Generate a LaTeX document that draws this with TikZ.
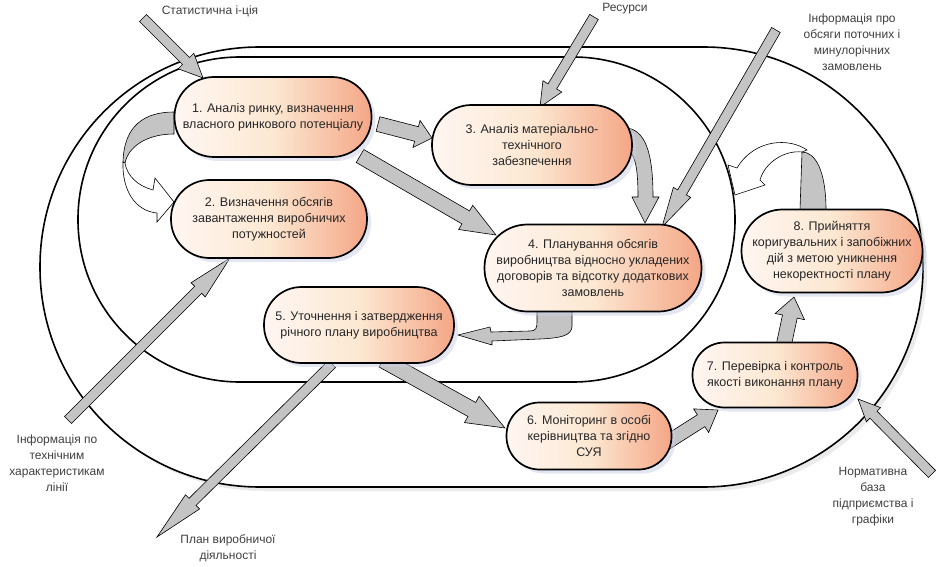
\documentclass[tikz,border=0pt]{standalone}
\usepackage{fontspec}
\setmainfont{Liberation Sans}
\usetikzlibrary{calc,shadows}
\definecolor{agray}{RGB}{196,196,196}
\definecolor{shc}{RGB}{202,208,228}
\definecolor{bc1}{RGB}{255,246,242}
\definecolor{bc2}{RGB}{252,232,210}
\definecolor{bc3}{RGB}{244,166,134}
\pgfdeclarehorizontalshading{boxshade}{100bp}{color(0bp)=(bc1); color(25bp)=(bc1); color(50bp)=(bc2); color(75bp)=(bc3); color(100bp)=(bc3)}
\tikzset{
  box/.style={draw=black, line width=1.7pt, shade, shading=boxshade, align=center,
    inner sep=0pt, font=\fontsize{12.5}{16}\selectfont, text=black!85,
    drop shadow={shadow xshift=4pt, shadow yshift=-4pt, fill=shc, draw=none}},
  lab/.style={align=center, inner sep=0pt, font=\fontsize{12}{16}\selectfont, text=black!75},
  barrow/.style={draw=black, line width=0.6pt, fill=agray, line join=miter},
  warrow/.style={draw=black, line width=0.6pt, fill=white, line join=miter},
  oval/.style={draw=black, line width=1.6pt}
}
% from, to, half shaft, half head, head length
\newcommand{\blockarr}[5]{%
  \path[barrow] let \p1=(#1), \p2=(#2),
    \n1={atan2(\y2-\y1,\x2-\x1)}, \n2={veclen(\x2-\x1,\y2-\y1)} in
    ($(\p1)+(\n1+90:#3)$) --
    ($(\p1)+(\n1:\n2-#5)+(\n1+90:#3)$) --
    ($(\p1)+(\n1:\n2-#5)+(\n1+90:#4)$) --
    (\p2) --
    ($(\p1)+(\n1:\n2-#5)+(\n1-90:#4)$) --
    ($(\p1)+(\n1:\n2-#5)+(\n1-90:#3)$) --
    ($(\p1)+(\n1-90:#3)$) -- cycle;}
\begin{document}
\begin{tikzpicture}[x=1pt,y=-1pt]
\useasboundingbox (0,0) rectangle (938,567);
\fill[white] (0,0) rectangle (938,567);

% ovals
\draw[oval, fill=white, rounded corners=219.5pt,
  drop shadow={shadow xshift=4pt, shadow yshift=-4pt, fill=gray!30, draw=none}]
  (40,47) rectangle (923,487);
\draw[oval, rounded corners=162pt] (78,57) rectangle (735,382);

% free ends
\coordinate (in1) at (143,18);
\coordinate (in2) at (594,17);
\coordinate (in3) at (776,30);
\coordinate (in4) at (68,420);
\coordinate (out5) at (157,537);
\coordinate (in6) at (932,474);
\coordinate (t1) at (203,78);
\coordinate (t2) at (540,107);
\coordinate (t3) at (662,227);
\coordinate (t4) at (230,258);
\coordinate (s5) at (332,364);
\coordinate (t6) at (858,399);

\blockarr{in1}{t1}{5pt}{11pt}{24pt}
\blockarr{in2}{t2}{5pt}{11pt}{24pt}
\blockarr{in3}{t3}{5pt}{10pt}{40pt}
\blockarr{in4}{t4}{5pt}{10pt}{45pt}
\blockarr{s5}{out5}{5pt}{10pt}{50pt}
\blockarr{in6}{t6}{5pt}{10pt}{22pt}

% arrows between boxes
\coordinate (a13s) at (378,124);
\coordinate (a13t) at (432,138);
\coordinate (a14s) at (360,156);
\coordinate (a14t) at (496,235);
\coordinate (a56s) at (383,360);
\coordinate (a56t) at (505,428);
\coordinate (a67s) at (666,443);
\coordinate (a67t) at (718,410);
\coordinate (a78s) at (784,344);
\coordinate (a78t) at (794,297);
\blockarr{a13s}{a13t}{7.5pt}{14pt}{16pt}
\blockarr{a14s}{a14t}{7.5pt}{14pt}{35pt}
\blockarr{a56s}{a56t}{8pt}{15pt}{38pt}
\blockarr{a67s}{a67t}{7pt}{14pt}{20pt}
\blockarr{a78s}{a78t}{7.5pt}{15pt}{20pt}

% curved 3 -> 4
\path[barrow] (628,128) .. controls (648,132) and (653,160) .. (653,197) -- (659,197)
  -- (645,223) -- (632,197) -- (638,197) .. controls (638,172) and (636,155) .. (628,150) -- cycle;
% bent 4 -> 5
\path[barrow] (537,308) -- (572,308) -- (572,326) .. controls (572,336) and (560,338) .. (540,339)
  -- (492,341) -- (492,345) -- (458,335) -- (490,327) -- (491,332) -- (530,331)
  .. controls (536,331) and (537,328) .. (537,322) -- cycle;

% curved 1 -> 2 (twisted band)
\path[barrow] (174,112) .. controls (145,112) and (124,125) .. (123,162) -- (125,163)
  .. controls (128,148) and (145,134) .. (174,134) -- cycle;
\path[warrow] (123,162) .. controls (122,190) and (135,211) .. (157,213) -- (157,222) -- (174,202)
  -- (155,178) -- (153,190) .. controls (138,186) and (127,176) .. (125,163) -- cycle;

% curved from 8 (twisted band)
\path[barrow] (800,210) -- (802,152) .. controls (815,152) and (826,170) .. (826,210) -- cycle;
\path[warrow] (807,150) .. controls (790,138) and (755,138) .. (737,168) -- (728,165) -- (735,195)
  -- (765,185) -- (760,180) .. controls (765,162) and (785,150) .. (802,152) -- cycle;

% boxes
\node[box, minimum width=197pt, minimum height=80pt, rounded corners=39.5pt] (b1) at (273,117)
  {1. Аналіз ринку, визначення\\власного ринкового потенціалу};
\node[box, minimum width=196pt, minimum height=78pt, rounded corners=38.5pt] (b2) at (269,219)
  {2. Визначення обсягів\\завантаження виробничих\\потужностей};
\node[box, minimum width=200pt, minimum height=80pt, rounded corners=39.5pt] (b3) at (532,145)
  {3. Аналіз матеріально-\\технічного\\забезпечення};
\node[box, minimum width=217pt, minimum height=87pt, rounded corners=43pt] (b4) at (593,268)
  {4. Планування обсягів\\виробництва відносно укладених\\договорів та відсотку додаткових\\замовлень};
\node[box, minimum width=190pt, minimum height=76pt, rounded corners=37.5pt] (b5) at (359,325)
  {5. Уточнення і затвердження\\річного плану виробництва};
\node[box, minimum width=165pt, minimum height=67pt, rounded corners=33pt] (b6) at (589,436)
  {6. Моніторинг в особі\\керівництва та згідно\\СУЯ};
\node[box, minimum width=165pt, minimum height=65pt, rounded corners=32pt] (b7) at (775,375)
  {7. Перевірка і контроль\\якості виконання плану};
\node[box, minimum width=181pt, minimum height=83pt, rounded corners=41pt] (b8) at (832,251)
  {8. Прийняття\\коригувальних і запобіжних\\дій з метою уникнення\\некоректності плану};

% labels
\node[lab] (l1) at (210,11) {Статистична і-ція};
\node[lab] (l2) at (625,9) {Ресурси};
\node[lab] (l3) at (852,42) {Інформація про\\обсяги поточних і\\минулорічних\\замовлень};
\node[lab] (l4) at (57,463) {Інформація по\\технічним\\характеристикам\\лінії};
\node[lab] (l5) at (228,548) {План виробничої\\діяльності};
\node[lab] (l6) at (873,497) {Нормативна\\база\\підприємства і\\графіки};
\end{tikzpicture}
\end{document}
